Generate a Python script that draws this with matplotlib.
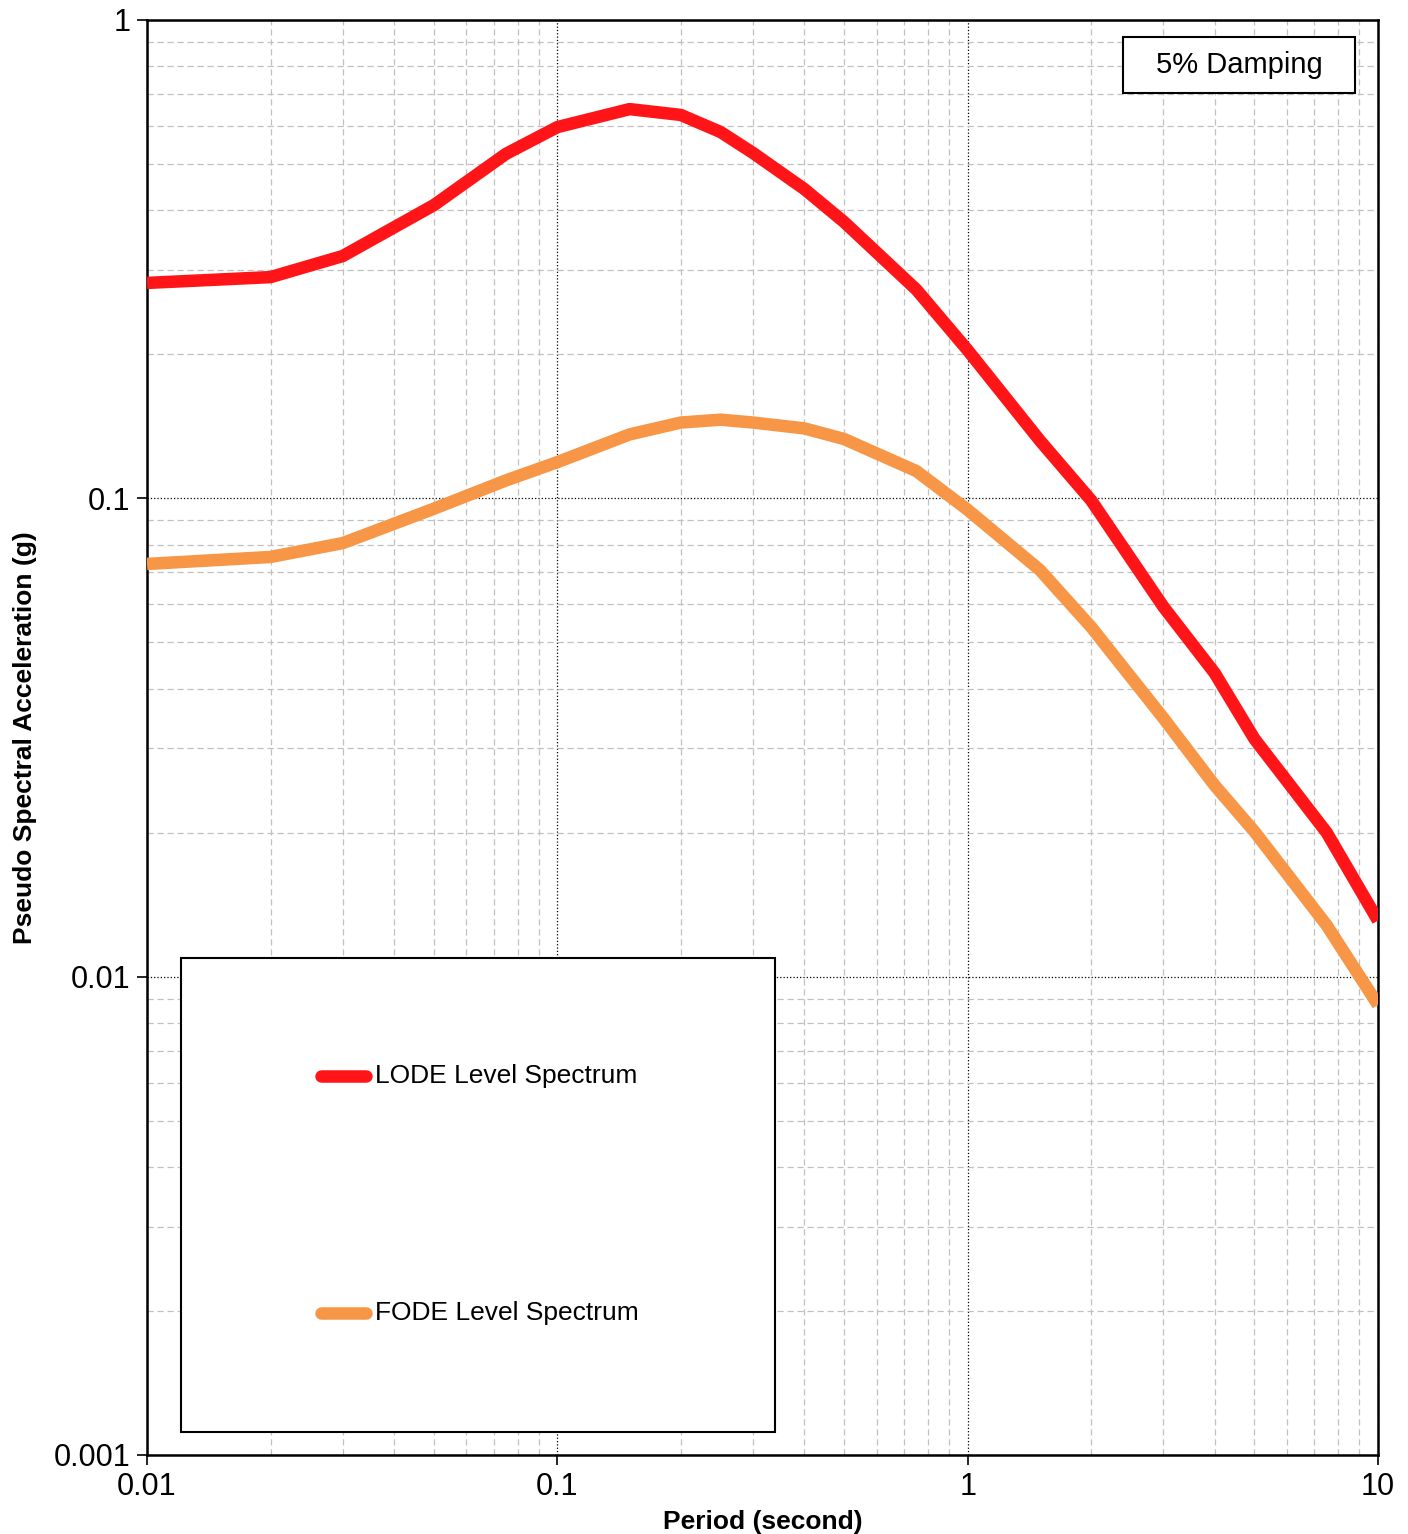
import matplotlib
matplotlib.use('Agg')
import matplotlib.pyplot as plt
from matplotlib.patches import Rectangle
from matplotlib.lines import Line2D
from matplotlib.ticker import FixedLocator, LogLocator, NullFormatter

plt.rcParams['font.family'] = ['Liberation Sans', 'DejaVu Sans']

# Datos del espectro
periodo = [0.01, 0.02, 0.03, 0.05, 0.075, 0.1, 0.15, 0.2, 0.25, 0.3, 0.4,
           0.5, 0.75, 1, 1.5, 2, 3, 4, 5, 7.5, 10]
lode = [0.282, 0.290, 0.321, 0.410, 0.525, 0.597, 0.651, 0.633, 0.583, 0.527, 0.443,
        0.378, 0.273, 0.204, 0.132, 0.099, 0.0593, 0.0431, 0.0314, 0.0200, 0.0131]
fode = [0.0729, 0.0754, 0.0806, 0.0951, 0.109, 0.119, 0.136, 0.144, 0.146, 0.144, 0.140,
        0.133, 0.114, 0.0946, 0.0708, 0.0538, 0.0347, 0.0251, 0.0201, 0.0128, 0.00873]
series = [('LODE Level Spectrum', lode, '#FF1418'), ('FODE Level Spectrum', fode, '#F79646')]

x_ticks = [0.01, 0.1, 1, 10]
x_labels = ['0.01', '0.1', '1', '10']
y_ticks = [0.001, 0.01, 0.1, 1]
y_labels = ['0.001', '0.01', '0.1', '1']

fig = plt.figure(figsize=(14.08, 15.34), dpi=100)
ax = fig.add_axes([0.1044, 0.0515, 0.8743, 0.9355])

for label, vals, color in series:
    ax.plot(periodo, vals, color=color, lw=9, solid_capstyle='butt',
            solid_joinstyle='round', label=label, zorder=3)

ax.set_xscale('log')
ax.set_yscale('log')
ax.set_xlim(0.01, 10)
ax.set_ylim(0.001, 1)

ax.xaxis.set_major_locator(FixedLocator(x_ticks))
ax.yaxis.set_major_locator(FixedLocator(y_ticks))
ax.xaxis.set_minor_locator(LogLocator(base=10, subs=range(2, 10)))
ax.yaxis.set_minor_locator(LogLocator(base=10, subs=range(2, 10)))
ax.xaxis.set_minor_formatter(NullFormatter())
ax.yaxis.set_minor_formatter(NullFormatter())
ax.set_xticklabels(x_labels, fontsize=22)
ax.set_yticklabels(y_labels, fontsize=22)

ax.tick_params(which='major', direction='out', length=7, width=1.2, pad=5)
ax.tick_params(which='minor', length=0)

ax.grid(which='major', color='black', linestyle=':', linewidth=0.9, zorder=1)
ax.grid(which='minor', color='#C0C0C0', linestyle=(0, (5, 3)), linewidth=0.9, zorder=1)
ax.set_axisbelow(True)

for sp in ax.spines.values():
    sp.set_linewidth(1.8)
    sp.set_color('black')

ax.set_xlabel('Period (second)', fontsize=19, fontweight='bold', labelpad=6)
ax.set_ylabel('Pseudo Spectral Acceleration (g)', fontsize=19, fontweight='bold', labelpad=12)

# Cuadro "5% Damping"
ax.add_patch(Rectangle((0.7929, 0.9491), 0.1885, 0.0390, transform=ax.transAxes,
                       facecolor='white', edgecolor='black', lw=1.5, zorder=5))
ax.text(0.8874, 0.9686, '5% Damping', transform=ax.transAxes, fontsize=21,
        ha='center', va='center', zorder=6)

# Leyenda dibujada a mano (estilo Excel)
ax.add_patch(Rectangle((0.0276, 0.016), 0.4825, 0.3303, transform=ax.transAxes,
                       facecolor='white', edgecolor='black', lw=1.5, zorder=5))
for (label, vals, color), yy in zip(series, [0.2641, 0.0990]):
    ax.add_line(Line2D([0.1413, 0.1779], [yy, yy], transform=ax.transAxes, color=color,
                       lw=9, solid_capstyle='round', zorder=6))
    ax.text(0.1852, yy, label, transform=ax.transAxes, fontsize=19,
            ha='left', va='center', zorder=6)

fig.savefig('out.png', dpi=100)
